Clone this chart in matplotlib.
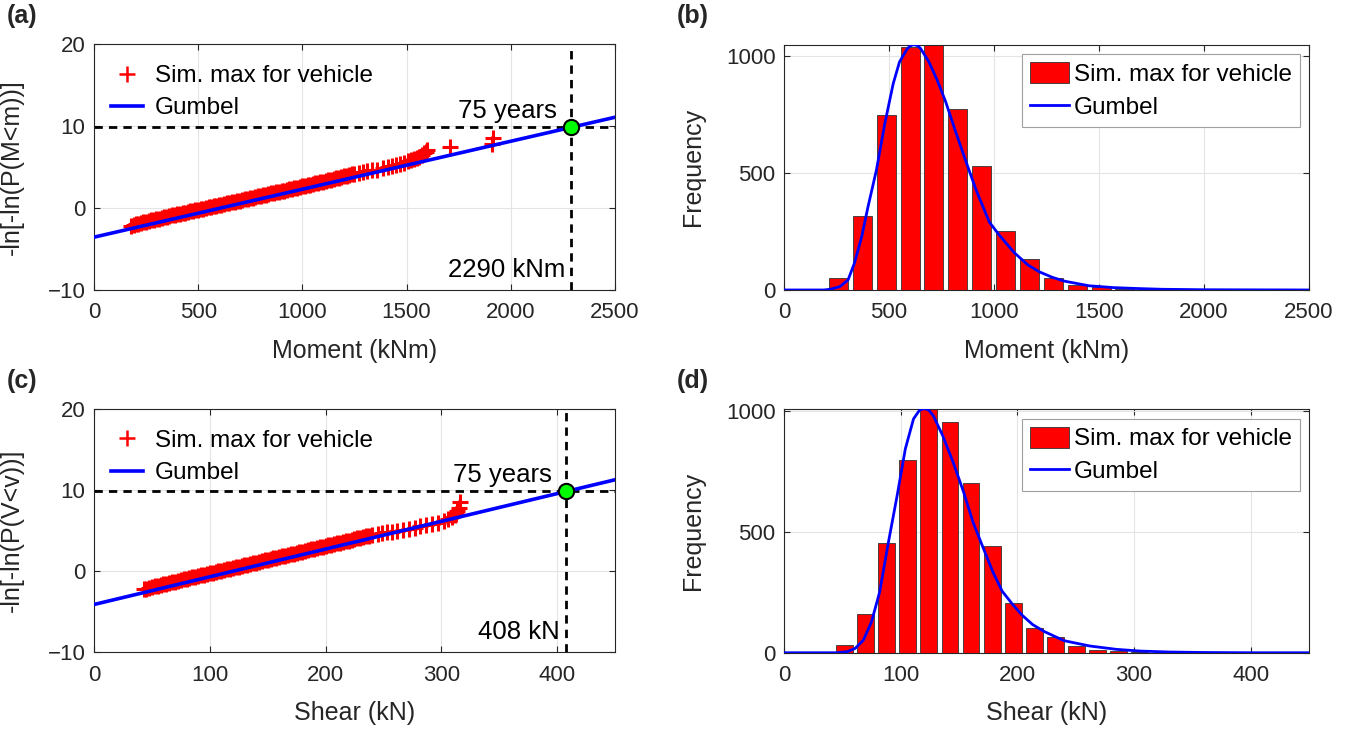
import matplotlib

matplotlib.use("Agg")

import matplotlib.pyplot as plt
from matplotlib.lines import Line2D
from matplotlib.patches import Patch

plt.rcParams["font.family"] = ["Liberation Sans", "DejaVu Sans"]

AXIS_GRAY = "#262626"

# ---- (a) moment: simulated maxima on Gumbel paper (read along the band) ----
MOMENT_SIM = [180, 190, 200, 212, 225, 237, 250, 262, 275, 287,
              300, 312, 325, 337, 350, 362, 375, 387, 400, 412,
              425, 437, 450, 462, 475, 487, 500, 512, 525, 537,
              550, 562, 575, 587, 600, 612, 625, 637, 650, 662,
              675, 687, 700, 712, 725, 737, 750, 762, 775, 787,
              800, 812, 825, 837, 850, 862, 875, 887, 900, 912,
              925, 937, 950, 962, 975, 987, 1000, 1012, 1025, 1037,
              1050, 1062, 1075, 1087, 1100, 1112, 1125, 1137, 1150, 1162,
              1175, 1187, 1200, 1212, 1225, 1237, 1250,
              1270, 1290, 1310, 1335, 1360, 1385, 1410, 1430, 1450, 1470,
              1490, 1505, 1520, 1535, 1548, 1560, 1572, 1585, 1595, 1600,
              1710, 1910, 1915]
MOMENT_SIM_RV = [-2.14, -2.05, -1.96, -1.88, -1.80, -1.72, -1.65, -1.57, -1.50, -1.42,
                 -1.35, -1.27, -1.20, -1.12, -1.05, -0.97, -0.90, -0.83, -0.76, -0.69,
                 -0.62, -0.54, -0.47, -0.40, -0.33, -0.26, -0.19, -0.12, -0.05, 0.02,
                 0.09, 0.16, 0.23, 0.30, 0.37, 0.44, 0.51, 0.58, 0.65, 0.72,
                 0.79, 0.86, 0.93, 1.00, 1.07, 1.14, 1.21, 1.28, 1.36, 1.43,
                 1.50, 1.57, 1.64, 1.71, 1.79, 1.86, 1.93, 2.00, 2.07, 2.14,
                 2.22, 2.29, 2.36, 2.43, 2.51, 2.58, 2.65, 2.72, 2.80, 2.87,
                 2.95, 3.02, 3.10, 3.17, 3.25, 3.32, 3.40, 3.48, 3.56, 3.64,
                 3.72, 3.80, 3.88, 3.96, 4.04, 4.12, 4.20,
                 4.3, 4.4, 4.5, 4.6, 4.7, 4.85, 5.0, 5.1, 5.25, 5.4,
                 5.55, 5.7, 5.85, 6.0, 6.15, 6.3, 6.5, 6.7, 6.9, 7.13,
                 7.42, 7.82, 8.52]
GUMBEL_M_X = [0, 2500]
GUMBEL_M_RV = [-3.55, 11.1]
DESIGN_M = 2290
RETURN_RV = 9.9

# ---- (b) moment histogram ----
M_BIN_CENTERS = [260, 374, 487, 601, 714, 828, 942, 1055, 1169, 1282, 1396, 1510, 1623, 1737, 1850]
M_COUNTS = [50, 317, 748, 1040, 1050, 776, 531, 252, 131, 50, 21, 11, 4, 1, 1]
M_BIN_WIDTH = 113.5
PDF_M_X = [0, 190, 220, 265, 305, 335, 370, 400, 440, 480, 520, 550, 585, 600, 617, 635,
           650, 690, 730, 770, 820, 870, 915, 978, 1025, 1096, 1160, 1215, 1275, 1334,
           1452, 1571, 1690, 1800, 2000, 2500]
PDF_M_Y = [0, 0, 3, 14, 43, 114, 228, 356, 513, 712, 883, 976, 1030, 1044, 1050, 1046,
           1034, 976, 897, 805, 670, 541, 427, 290, 235, 160, 108, 78, 55, 38,
           18, 10, 6, 3, 1, 0]

# ---- (c) shear: simulated maxima on Gumbel paper (read along the band) ----
SHEAR_SIM = [43, 45, 47.5, 50, 52.5, 55, 57.5, 60, 62.5, 65,
             67.5, 70, 72.5, 75, 77.5, 80, 82.5, 85, 87.5, 90,
             92.5, 95, 97.5, 100, 102.5, 105, 107.5, 110, 112.5, 115,
             117.5, 120, 122.5, 125, 127.5, 130, 132.5, 135, 137.5, 140,
             142.5, 145, 147.5, 150, 152.5, 155, 157.5, 160, 162.5, 165,
             167.5, 170, 172.5, 175, 177.5, 180, 182.5, 185, 187.5, 190,
             192.5, 195, 197.5, 200, 202.5, 205, 207.5, 210, 212.5, 215,
             217.5, 220, 222.5, 225, 227.5, 230, 232.5, 235, 237.5, 240,
             245, 249, 253, 257, 262, 267, 272, 277, 282, 287,
             292, 297, 302, 306, 309, 312, 313, 314, 315, 316]
SHEAR_SIM_RV = [-2.20, -2.14, -2.05, -1.95, -1.87, -1.78, -1.69, -1.60, -1.52, -1.43,
                -1.35, -1.26, -1.18, -1.09, -1.01, -0.92, -0.84, -0.76, -0.68, -0.59,
                -0.51, -0.43, -0.35, -0.27, -0.19, -0.10, -0.02, 0.06, 0.15, 0.23,
                0.32, 0.40, 0.49, 0.57, 0.66, 0.74, 0.83, 0.91, 1.00, 1.08,
                1.17, 1.25, 1.34, 1.42, 1.51, 1.59, 1.68, 1.76, 1.85, 1.93,
                2.02, 2.10, 2.19, 2.27, 2.36, 2.44, 2.53, 2.61, 2.70, 2.78,
                2.87, 2.95, 3.04, 3.12, 3.21, 3.29, 3.38, 3.46, 3.55, 3.63,
                3.72, 3.80, 3.89, 3.97, 4.06, 4.14, 4.23, 4.31, 4.40, 4.48,
                4.6, 4.75, 4.85, 4.9, 5.0, 5.15, 5.25, 5.4, 5.55, 5.7,
                5.85, 6.0, 6.2, 6.45, 6.7, 6.9, 7.1, 7.4, 7.8, 8.5]
GUMBEL_V_X = [0, 450]
GUMBEL_V_RV = [-4.1, 11.3]
DESIGN_V = 408

# ---- (d) shear histogram ----
V_BIN_CENTERS = [52.0, 70.1, 88.1, 106.2, 124.2, 142.3, 160.3, 178.4, 196.4, 214.5,
                 232.5, 250.6, 268.6, 286.7, 304.7]
V_COUNTS = [32, 161, 455, 799, 1010, 957, 704, 442, 208, 101, 64, 28, 10, 6, 2]
V_BIN_WIDTH = 18.05
PDF_V_X = [0, 45, 54, 61, 68, 75, 82, 89, 97, 104, 111, 116, 120, 124, 128, 136, 145, 154,
           162, 171, 179, 187, 196, 204, 213, 223, 240, 262, 285, 305, 330, 360, 400, 450]
PDF_V_Y = [0, 0, 4, 18, 52, 128, 252, 445, 652, 845, 969, 1004, 1012, 1006, 982, 900, 789,
           665, 541, 431, 335, 255, 200, 156, 117, 88, 50, 28, 14, 7, 3, 1, 0, 0]


def style_axes(ax, xlim, ylim, xticks, yticks):
    ax.set_xlim(*xlim)
    ax.set_ylim(*ylim)
    ax.set_xticks(xticks)
    ax.set_yticks(yticks)
    ax.grid(True, color="#e4e4e4", linewidth=0.8)
    ax.set_axisbelow(True)
    ax.tick_params(direction="in", top=True, right=True, labelsize=16, length=4,
                   width=0.8, color=AXIS_GRAY, labelcolor=AXIS_GRAY)
    ax.tick_params(axis="x", pad=9)
    ax.tick_params(axis="y", pad=6)
    for spine in ax.spines.values():
        spine.set_color(AXIS_GRAY)
        spine.set_linewidth(0.8)


def gumbel_panel(ax, sim_x, sim_rv, line_x, line_rv, design, xlim, xticks,
                 xlabel, ylabel, design_text):
    ax.plot(sim_x, sim_rv, "+", color="red", markersize=12, markeredgewidth=2.2, zorder=3)
    ax.plot(line_x, line_rv, color="blue", linewidth=2.6, zorder=4)
    dash = dict(color="black", linewidth=2, linestyle=(0, (3, 2.2)), zorder=2)
    ax.axhline(RETURN_RV, **dash)
    ax.axvline(design, **dash)
    ax.plot([design], [RETURN_RV], "o", markerfacecolor="#00ff00", markeredgecolor="black",
            markersize=11, markeredgewidth=1.5, zorder=5)
    style_axes(ax, xlim, (-10, 20), xticks, [-10, 0, 10, 20])
    span = xlim[1] - xlim[0]
    ax.text(design - 0.028 * span, RETURN_RV + 0.5, "75 years", ha="right", va="bottom",
            fontsize=18.5, color="black")
    ax.text(design - 0.012 * span, -7.5, design_text, ha="right", va="center",
            fontsize=18.5, color="black")
    ax.set_xlabel(xlabel, fontsize=18, color=AXIS_GRAY)
    ax.set_ylabel(ylabel, fontsize=18, color=AXIS_GRAY)
    ax.xaxis.set_label_coords(0.5, -0.2)
    ax.yaxis.set_label_coords(-0.134, 0.5)
    handles = [
        Line2D([0], [0], marker="+", color="red", linestyle="none", markersize=12,
               markeredgewidth=1.8, label="Sim. max for vehicle"),
        Line2D([0], [0], color="blue", linewidth=2.6, label="Gumbel"),
    ]
    ax.legend(handles=handles, loc="upper left", bbox_to_anchor=(0.0, 0.985), frameon=False,
              fontsize=17.5, handlelength=1.3, handletextpad=0.5, labelspacing=0.42,
              borderaxespad=0.3)


def hist_panel(ax, centers, counts, bin_width, pdf_x, pdf_y, xlim, ylim, xticks, xlabel):
    ax.bar(centers, counts, width=0.8 * bin_width, color="red", edgecolor="#333333",
           linewidth=0.6, zorder=2)
    ax.plot(pdf_x, pdf_y, color="blue", linewidth=2, zorder=3)
    style_axes(ax, xlim, ylim, xticks, [0, 500, 1000])
    ax.set_xlabel(xlabel, fontsize=18, color=AXIS_GRAY)
    ax.set_ylabel("Frequency", fontsize=18, color=AXIS_GRAY)
    ax.xaxis.set_label_coords(0.5, -0.2)
    ax.yaxis.set_label_coords(-0.15, 0.5)
    handles = [
        Patch(facecolor="red", edgecolor="#333333", linewidth=0.6, label="Sim. max for vehicle"),
        Line2D([0], [0], color="blue", linewidth=2, label="Gumbel"),
    ]
    leg = ax.legend(handles=handles, loc="upper right", bbox_to_anchor=(0.982, 0.96),
                    fontsize=17.5, fancybox=False, framealpha=1, handlelength=1.6,
                    handleheight=0.95, handletextpad=0.2, labelspacing=0.38,
                    borderpad=0.32, borderaxespad=0)
    leg.get_frame().set_edgecolor("#a0a0a0")
    leg.get_frame().set_linewidth(0.8)


fig = plt.figure(figsize=(13.48, 7.33), dpi=100)
ax_a = fig.add_axes([0.0697, 0.6044, 0.3865, 0.335])
ax_b = fig.add_axes([0.5816, 0.6044, 0.3895, 0.3347])
ax_c = fig.add_axes([0.0697, 0.1101, 0.3865, 0.3315])
ax_d = fig.add_axes([0.5816, 0.1095, 0.3895, 0.3325])

gumbel_panel(ax_a, MOMENT_SIM, MOMENT_SIM_RV, GUMBEL_M_X, GUMBEL_M_RV, DESIGN_M,
             (0, 2500), [0, 500, 1000, 1500, 2000, 2500], "Moment (kNm)",
             "-ln[-ln(P(M<m))]", f"{DESIGN_M} kNm")
hist_panel(ax_b, M_BIN_CENTERS, M_COUNTS, M_BIN_WIDTH, PDF_M_X, PDF_M_Y, (0, 2500),
           (0, 1050), [0, 500, 1000, 1500, 2000, 2500], "Moment (kNm)")
gumbel_panel(ax_c, SHEAR_SIM, SHEAR_SIM_RV, GUMBEL_V_X, GUMBEL_V_RV, DESIGN_V,
             (0, 450), [0, 100, 200, 300, 400], "Shear (kN)",
             "-ln[-ln(P(V<v))]", f"{DESIGN_V} kN")
hist_panel(ax_d, V_BIN_CENTERS, V_COUNTS, V_BIN_WIDTH, PDF_V_X, PDF_V_Y, (0, 450),
           (0, 1010), [0, 100, 200, 300, 400], "Shear (kN)")

for label, x, y in [("(a)", 0.005, 0.995), ("(b)", 0.502, 0.995),
                    ("(c)", 0.005, 0.497), ("(d)", 0.502, 0.497)]:
    fig.text(x, y, label, fontsize=18, fontweight="bold", ha="left", va="top", color=AXIS_GRAY)

fig.savefig("out.png", dpi=100)
